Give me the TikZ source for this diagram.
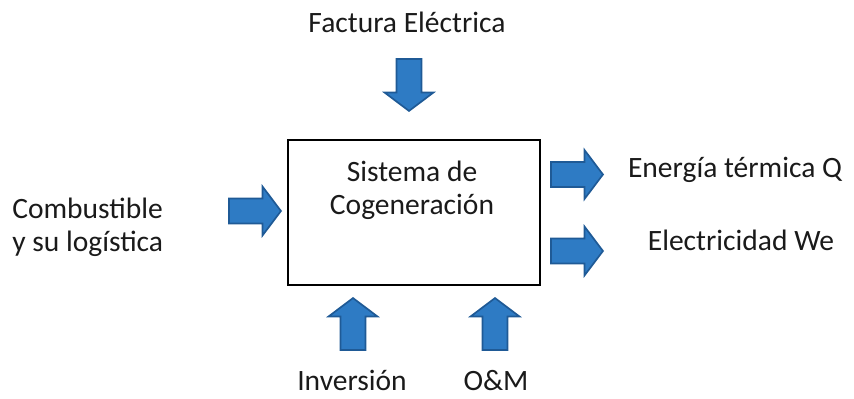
\documentclass[tikz,border=0pt]{standalone}
\usepackage{fontspec}
\setmainfont{Carlito}
\usetikzlibrary{positioning,shapes.arrows}
\definecolor{arrfill}{HTML}{2E7BC4}
\definecolor{arrdraw}{HTML}{1F5A96}
\definecolor{txt}{HTML}{1A1A1A}

\begin{document}
\begin{tikzpicture}[
    x=0.025cm, y=-0.025cm,
    flow/.style={single arrow, draw=arrdraw, fill=arrfill, line width=1.2pt,
        minimum height=1.3cm, inner sep=0.29cm,
        single arrow head extend=0.3cm, single arrow tip angle=106, anchor=tip},
    lab/.style={text=txt, font=\fontsize{21}{23.4}\selectfont, inner sep=0pt},
    sysbox/.style={draw, line width=0.8pt, minimum width=6.3cm, minimum height=3.625cm}
]
\useasboundingbox (0,0) rectangle (854,399);

% Central system
\node[sysbox] (sys) at (414,212.5) {};
\node[lab, align=center] (syslab) at (412,190) {Sistema de\\Cogeneración};

% Inputs and outputs
\node[flow, shape border rotate=270] (Ain) at (409,112) {};
\node[lab] (Lin) at (407,22) {Factura Eléctrica};

\node[flow] (Afuel) at (282,211) {};
\node[lab, align=left, anchor=west] (Lfuel) at (12,227) {Combustible\\y su logística};

\node[flow] (Aq) at (604,174.5) {};
\node[lab] (Lq) at (735,170) {Energía térmica Q};
\node[flow] (Awe) at (604,251) {};
\node[lab] (Lwe) at (741,240) {Electricidad We};

\node[flow, shape border rotate=90] (Ainv) at (353,297) {};
\node[lab, anchor=base] (Linv) at (352,390) {Inversión};
\node[flow, shape border rotate=90] (Aom) at (495,297) {};
\node[lab, anchor=base] (Lom) at (496,390) {O\&M};

\end{tikzpicture}
\end{document}
